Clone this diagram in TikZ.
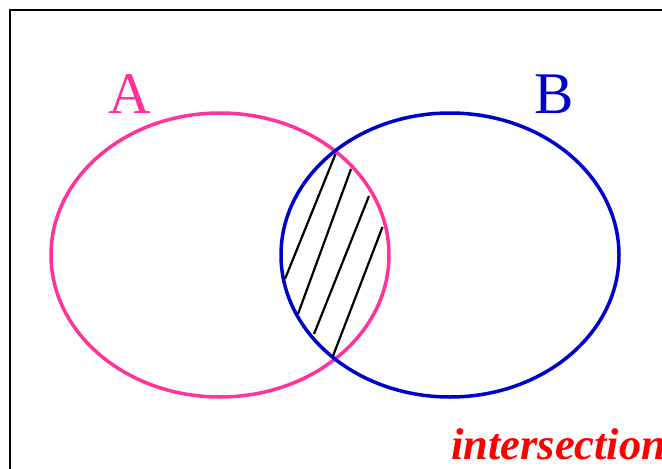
\documentclass[tikz,border=0pt]{standalone}
\usepackage{fontspec}
\setmainfont{Liberation Serif}
\usepackage{xcolor}
\usepackage{tikz}
\definecolor{setpink}{RGB}{255,51,153}
\definecolor{setblue}{RGB}{0,0,204}
\definecolor{setred}{RGB}{255,0,0}

\begin{document}
\begin{tikzpicture}[x=1pt, y=-1pt]
\useasboundingbox (0,0) rectangle (662,469);
\draw[line width=2pt] (10,469) -- (10,10) -- (662,10);
\draw[setpink, line width=3.5pt] (220,255) ellipse (169 and 142);
\draw[setblue, line width=3.5pt] (450,255) ellipse (169 and 142);
\draw[line width=2.2pt] (335.5,154) -- (285,279);
\draw[line width=2.2pt] (351,169) -- (298,314);
\draw[line width=2.2pt] (369,196) -- (314,334);
\draw[line width=2.2pt] (382.5,227) -- (333,356);
\node[anchor=base, text=setpink, font=\fontsize{59}{59}\selectfont, inner sep=0pt] (labelA) at (130,113) {A};
\node[anchor=base, text=setblue, font=\fontsize{59}{59}\selectfont, inner sep=0pt] (labelB) at (554,113) {B};
\node[anchor=base west, text=setred, font=\fontsize{44.5}{44.5}\selectfont\bfseries\itshape, inner sep=0pt] (caption) at (451,459) {intersection};
\end{tikzpicture}
\end{document}
